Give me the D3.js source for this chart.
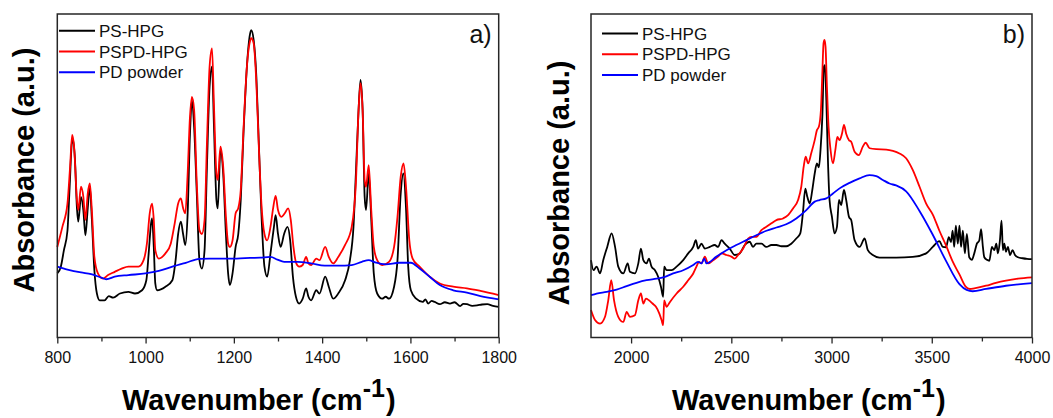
<!DOCTYPE html>
<html>
<head>
<meta charset="utf-8">
<script src="https://cdn.jsdelivr.net/npm/d3@7"></script>
<style>
  body { margin: 0; background: #fff; }
  svg { display: block; font-family: "Liberation Sans", Arial, sans-serif; }
</style>
</head>
<body>
<div id="chart"></div>
<script>
// Series names and colours, shared by both panels.
const seriesNames = ["PS-HPG", "PSPD-HPG", "PD powder"];
const seriesColors = ["#000000", "#ff0000", "#0000ff"];

// Panel a) : [wavenumber, absorbance (a.u.)]
const psHpgA = [[800,19.8],[808,21.9],[815,27],[823,33],[828,46.6],[833,60],[836,61],[840,55],[844.5,40],[847.5,35.8],[853.7,43.5],[859,39.4],[863.7,31.6],[869,40],[873.6,46.6],[878,37.3],[884,20.8],[889.7,13.6],[896,11.5],[907,11.5],[916.6,12.8],[926.5,12.3],[942,13.6],[961,14.1],[976,13.6],[992,14.6],[1001.7,17.7],[1007,26],[1012.4,35.3],[1014.7,36.8],[1018.6,28],[1022,16.7],[1026,14.6],[1045,15.7],[1060.7,17.7],[1068,23.9],[1073.8,32],[1080,35.8],[1085,32],[1090,28.6],[1095,37.3],[1100.6,63],[1105,73.4],[1110,65],[1116,44.5],[1122,23.9],[1127.5,21.3],[1133.6,27],[1139,52.8],[1145,77.5],[1150.5,83.7],[1155,65],[1160.5,42.5],[1163.5,39.9],[1169.7,58],[1175.8,50.7],[1182,32],[1187,19.8],[1191,16.2],[1197,19.8],[1204,28],[1210,32],[1215.6,42.5],[1221.8,63],[1229.5,83.7],[1235.6,93],[1239.4,95],[1244.8,92],[1251,80.6],[1256.3,61],[1262.4,38.4],[1269.3,21.9],[1275.5,18.8],[1283,26],[1290.8,34.2],[1294.6,37.8],[1300,32],[1306,28],[1313.8,32],[1321.5,34.2],[1327.6,30],[1333.8,18.8],[1340.6,12.6],[1348,10.5],[1356,12],[1363.7,15.2],[1369,12.6],[1375,11.5],[1386.7,14.6],[1394,13.6],[1407,18.8],[1415,15.7],[1425,12],[1436.5,13.6],[1452,17.7],[1463,23.9],[1471,34.2],[1476.4,50.7],[1482.5,70.3],[1487,79.6],[1491.7,70.3],[1496.3,43.5],[1499.4,39.4],[1505.5,50.7],[1511,37.3],[1517,19.8],[1524.7,13.6],[1536,12],[1544,12.6],[1551.5,12],[1563,15.7],[1570.7,23.9],[1578,44.5],[1584,50.7],[1590,40],[1595,21.9],[1601,14.6],[1613,12],[1628,11],[1634,11.8],[1640,10.5],[1648,11.3],[1655,11],[1666.6,10.3],[1678,10.9],[1689.6,10.5],[1700,10.9],[1712.6,9.7],[1720,10.4],[1728,10.3],[1740,9.8],[1751,9.9],[1762,10.2],[1774,10.3],[1787,9.8],[1800,9.5]];

const pspdHpgA = [[800,28],[811.5,34.2],[823,41.4],[829,52.8],[833.7,62.6],[838,59],[844.5,42.5],[847.5,39.4],[853.7,46.6],[859,43.5],[863.7,36.3],[869,44.5],[873.6,47.6],[878,40],[884,24.9],[892,19.8],[903.5,18.2],[915,19.3],[930,20.3],[945.7,21.3],[961,21.9],[984,21.9],[995.5,23.9],[1003,29],[1009.4,38.4],[1014.7,41.4],[1018.6,36.3],[1022,27],[1030,24.4],[1045,26],[1057,29],[1066,35.3],[1073.8,41.4],[1080,43],[1085,40],[1090,38.4],[1095,49.7],[1100.6,68.2],[1105,74.4],[1110,70.3],[1116,47.6],[1122,33.2],[1127.5,32],[1133.6,36.3],[1139,60],[1145,83.7],[1150.5,89.4],[1155,71.3],[1160.5,50.7],[1163.5,48.7],[1169.7,59],[1175.8,52.8],[1182,37.3],[1187,29],[1191,28],[1197,30],[1204,38.4],[1210,40],[1215.6,45.6],[1221.8,64.2],[1229.5,83.7],[1235.6,91],[1239.4,92.5],[1244.8,91],[1251,78.6],[1256.3,60],[1262.4,41.4],[1269.3,32],[1275.5,30],[1283,34.2],[1289,40],[1294.6,43.8],[1300,39.4],[1307.6,37.3],[1315.3,38.4],[1323,39.9],[1329,36.3],[1335,28],[1341.4,22.9],[1348,21.9],[1356,22.4],[1363.7,24.9],[1369,22.9],[1375,22.4],[1386.7,24.4],[1394,23.9],[1407,28],[1415,24.9],[1425,22.9],[1436.5,24.9],[1452,28.6],[1467,34.2],[1476.4,47.6],[1482.5,70.3],[1487,78.6],[1491.7,70.3],[1496.3,48.7],[1499.4,46.6],[1505.5,53.3],[1511,40],[1517,28],[1524.7,23.9],[1536,22.4],[1551.5,23.4],[1563,28],[1570.7,37.3],[1578,49.7],[1584.4,53.8],[1590,46.6],[1597.5,30],[1605,24.4],[1620.7,21.9],[1643.6,18.8],[1666.6,16.7],[1697,15.7],[1728,15.2],[1758.6,14.4],[1800,13.1]];

const pdPowderA = [[800,21.9],[823,21],[853.7,20.1],[876.7,19.6],[899.7,18.5],[911,18],[930,18.8],[961,19.3],[999.4,19.8],[1030,20.6],[1060.7,21.9],[1091,23.1],[1122,24.3],[1145,24.4],[1175.8,24.4],[1206.5,24.4],[1237,24.6],[1260,24.7],[1283,24.9],[1298.5,24.1],[1313.8,23.4],[1344.5,23.4],[1375,22.9],[1405.8,22.2],[1436.5,22.2],[1467,22.4],[1490,23.4],[1505.5,23.9],[1520,23.2],[1544,22.6],[1574.6,23.1],[1601,23.1],[1620.7,21.3],[1643.6,18.8],[1666.6,16.2],[1697,14.6],[1728,13.9],[1758.6,12.8],[1800,11.8]];

// Panel b) : [wavenumber, absorbance (a.u.)]
const psHpgB = [[1800,23.9],[1812,20.8],[1828,21.9],[1845,19.8],[1861,23.9],[1881,28],[1903,32.2],[1920,28],[1936,21.9],[1961,19.8],[1983,22.9],[1994,20.3],[2019,19.8],[2036,22.9],[2049,27.5],[2061,23.9],[2077,22.9],[2089,24.4],[2102,21.9],[2119,20.8],[2135,18.8],[2149,15.7],[2160,12.6],[2165,21.9],[2177,20.8],[2202,20.8],[2227,21.9],[2260,23.9],[2285,26],[2310,28],[2323,30.1],[2334,27.5],[2351,29],[2368,27.5],[2393,28],[2417,28.6],[2434,28],[2451,30.1],[2467,29],[2492,27.5],[2517,25.5],[2542,26],[2567,28.6],[2592,29.6],[2608,28],[2625,29],[2650,29],[2675,28],[2700,28.6],[2725,28.6],[2750,28.2],[2774,28.2],[2799,29],[2824,30.6],[2844,32.2],[2857,38.4],[2869,46],[2879,43.5],[2891,41.4],[2904,45.6],[2916,50.7],[2927,53.8],[2937,52.6],[2945,58],[2954,68.2],[2962,83.7],[2967,84.2],[2974,73.4],[2982,54.8],[2990,42.5],[3002,37.3],[3015,32.2],[3027,34.2],[3037,42.5],[3048,40.9],[3062,45.6],[3073,42.5],[3087,37.3],[3098,36.3],[3115,30.1],[3140,28],[3165,30.6],[3181,27],[3206,25.5],[3239,24.7],[3322,24.7],[3405,24.9],[3472,26],[3505,28],[3538,29.8],[3555,28],[3571,27.9],[3585,31],[3596,29.5],[3604,33],[3612,28],[3620,34.6],[3630,29],[3638,34.6],[3646,28],[3655,33],[3665,26],[3675,32],[3687,24.8],[3700,24],[3712,26],[3725,29],[3737,30],[3746,33.5],[3755,28],[3762,24.8],[3775,24],[3787,23.7],[3800,28],[3812,27],[3822,29],[3830,26],[3840,30],[3848,36.1],[3855,27],[3862,29],[3870,26.5],[3880,28],[3890,25.5],[3903,27],[3915,25.5],[3930,24.8],[3953,24.5],[3975,24.3],[4000,24.2]];

const pspdHpgB = [[1800,8.5],[1820,5.4],[1845,4.3],[1870,6.4],[1886,11.5],[1901,17.7],[1915,11.5],[1936,6.4],[1961,4.8],[1978,7.9],[1994,6.4],[2019,6.9],[2036,11.5],[2049,13.6],[2061,10.5],[2074,12],[2089,11.5],[2107,10.5],[2124,9.5],[2141,7.4],[2152,5.4],[2160,3.8],[2165,11.5],[2177,9.5],[2194,11],[2227,13.6],[2260,15.7],[2285,17.7],[2310,19.8],[2326,21.9],[2339,23.4],[2351,22.9],[2368,25],[2384,22.9],[2409,23.9],[2434,25],[2451,26],[2476,25.5],[2500,25],[2517,24.4],[2534,25.5],[2559,27.5],[2584,30.6],[2600,31.1],[2625,31.1],[2650,33.2],[2675,34.2],[2700,35.3],[2725,36.3],[2758,36.8],[2783,37.8],[2808,39.9],[2833,42.5],[2849,46.6],[2861,52.8],[2871,55.9],[2883,53.8],[2899,57],[2916,61],[2927,64.1],[2937,65.2],[2947,70.3],[2954,81.6],[2960,90.9],[2965,92],[2970,89.9],[2977,77.5],[2985,65.2],[2995,58],[3007,53.8],[3019,58],[3029,62],[3040,61],[3052,63],[3062,65.7],[3073,63],[3087,61],[3098,60.5],[3115,57.4],[3136,56.4],[3156,59],[3170,60.2],[3190,58.5],[3223,58.2],[3273,58.1],[3306,57.7],[3339,56.9],[3372,55.4],[3405,51.8],[3439,46.6],[3472,41.4],[3505,38],[3538,33],[3571,28.5],[3604,23.5],[3638,19.5],[3668,15.8],[3690,15],[3712,15.2],[3771,16],[3820,16.9],[3870,17.6],[3930,18.2],[4000,18.6]];

const pdPowderB = [[1800,13.1],[1828,13.6],[1878,14.1],[1928,14.8],[1978,15.9],[2027,16.9],[2077,17.7],[2127,18.2],[2160,18.6],[2210,19.8],[2260,20.8],[2310,22.4],[2334,23.4],[2351,22.9],[2365,24.4],[2376,22.9],[2426,25],[2476,27],[2525,28.6],[2575,30.1],[2625,31.6],[2675,33],[2725,34],[2774,35],[2824,36.8],[2874,39.4],[2916,42],[2940,42.5],[2974,43],[3007,44.5],[3040,46.1],[3090,47.8],[3140,49.2],[3189,50.2],[3223,49.9],[3256,48.7],[3289,47.6],[3322,47],[3372,45.2],[3438,39.2],[3503,32],[3571,23.7],[3638,16.5],[3674,14.7],[3704,14.3],[3771,15],[3870,16],[4000,16.8]];

// Axis ticks
const ticksA = [800, 1000, 1200, 1400, 1600, 1800];
const minorTicksA = [900, 1100, 1300, 1500, 1700];
const ticksB = [2000, 2500, 3000, 3500, 4000];
const minorTicksB = [2250, 2750, 3250, 3750];

const width = 1053, height = 418;

const svg = d3.select("#chart").append("svg")
  .attr("width", width)
  .attr("height", height);

// Draws one framed spectrum panel.
function drawPanel(opt) {
  let x = d3.scaleLinear().domain(opt.domain).range([opt.left, opt.right]);
  let y = d3.scaleLinear().domain([0, 100]).range([337.5, 14]);
  let g = svg.append("g");

  let line = d3.line()
    .x(d => x(d[0]))
    .y(d => y(d[1]))
    .curve(d3.curveMonotoneX);

  // Spectra: black first, red over it, blue on top
  opt.series.forEach((s, i) => {
    g.append("path")
      .datum(s)
      .attr("fill", "none")
      .attr("stroke", seriesColors[i])
      .attr("stroke-width", 1.8)
      .attr("stroke-linejoin", "round")
      .attr("d", line);
  });

  // Frame
  g.append("rect")
    .attr("x", opt.left)
    .attr("y", 14)
    .attr("width", opt.right - opt.left)
    .attr("height", 337.5 - 14)
    .attr("fill", "none")
    .attr("stroke", "#262626")
    .attr("stroke-width", 1.5);

  // Major ticks with labels
  let axis = g.append("g")
    .attr("transform", "translate(0,337.5)")
    .call(d3.axisBottom(x).tickValues(opt.ticks).tickFormat(d3.format("d"))
      .tickSize(6).tickSizeOuter(0).tickPadding(8));
  axis.select(".domain").remove();
  axis.selectAll("line").attr("stroke", "#262626").attr("stroke-width", 1.3);
  axis.selectAll("text")
    .attr("font-size", 16)
    .attr("fill", "#111")
    .style("font-family", "'Liberation Sans', Arial, sans-serif");

  // Minor ticks
  let minor = g.append("g")
    .attr("transform", "translate(0,337.5)")
    .call(d3.axisBottom(x).tickValues(opt.minor).tickSize(4).tickFormat(""));
  minor.select(".domain").remove();
  minor.selectAll("line").attr("stroke", "#262626").attr("stroke-width", 1.3);

  // Legend
  seriesNames.forEach((name, i) => {
    let ly = opt.legendY + i * 20.8;
    g.append("line")
      .attr("x1", opt.legendX).attr("x2", opt.legendX + 36)
      .attr("y1", ly).attr("y2", ly)
      .attr("stroke", seriesColors[i])
      .attr("stroke-width", 2);
    g.append("text")
      .attr("x", opt.legendX + 40)
      .attr("y", ly + 6)
      .attr("font-size", 17)
      .attr("fill", "#111")
      .text(name);
  });

  // Panel letter
  g.append("text")
    .attr("x", opt.right - 7)
    .attr("y", 43)
    .attr("text-anchor", "end")
    .attr("font-size", 25)
    .attr("fill", "#111")
    .text(opt.letter);

  // X title with superscript
  let xt = g.append("text")
    .attr("x", opt.xTitleX)
    .attr("y", 410)
    .attr("font-size", 29)
    .attr("font-weight", "bold")
    .attr("fill", "#000")
    .text("Wavenumber (cm");
  xt.append("tspan").attr("dy", -13).attr("font-size", 25).text("-1");
  xt.append("tspan").attr("dy", 13).attr("dx", 1).attr("font-size", 29).text(")");

  // Y title
  g.append("text")
    .attr("transform", "translate(" + opt.yTitleX + "," + opt.yTitleY + ") rotate(-90)")
    .attr("text-anchor", "middle")
    .attr("font-size", 29)
    .attr("font-weight", "bold")
    .attr("fill", "#000")
    .text("Absorbance (a.u.)");
}

drawPanel({
  domain: [800, 1800], left: 57.3, right: 498.7,
  ticks: ticksA, minor: minorTicksA,
  series: [psHpgA, pspdHpgA, pdPowderA],
  legendX: 59, legendY: 30.7,
  letter: "a)", xTitleX: 122, yTitleX: 34, yTitleY: 170
});

drawPanel({
  domain: [1800, 4000], left: 591, right: 1032,
  ticks: ticksB, minor: minorTicksB,
  series: [psHpgB, pspdHpgB, pdPowderB],
  legendX: 602, legendY: 33.5,
  letter: "b)", xTitleX: 672, yTitleX: 569, yTitleY: 183
});
</script>
</body>
</html>
